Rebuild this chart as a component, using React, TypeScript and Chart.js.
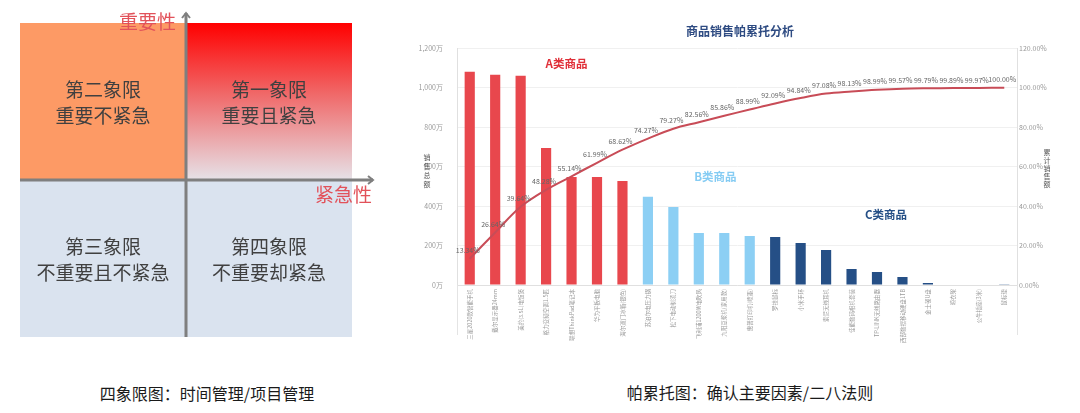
import React, { useEffect, useRef } from 'react';
import { Chart, registerables } from 'chart.js';

Chart.register(...registerables);

const FONT = '"Noto Sans CJK SC", "Noto Sans", sans-serif';

// ---------- Quadrant (四象限) data ----------
const quadrantTitles = ['第一象限', '第二象限', '第三象限', '第四象限'];
const quadrantDescs = ['重要且紧急', '重要不紧急', '不重要且不紧急', '不重要却紧急'];
const quadrantXSign = [1, -1, -1, 1];
const quadrantYSign = [1, 1, -1, -1];
const quadrantAxisNames = ['紧急性', '重要性'];

// ---------- Pareto (帕累托) data ----------
const productNames = [
  '三星2020款智能手机', '戴尔显示器24mm', '美的(3.5L)电饭煲', '格力变频空调1.5匹',
  '联想ThinkPad笔记本', '华为平板电脑', '海尔双门冰箱(银色)', '苏泊尔电压力锅',
  '松下电动剃须刀', '飞利浦1200W电吹风', '九阳豆浆机(家用款)', '惠普打印机(喷墨)',
  '罗技鼠标', '小米手环', '索尼无线耳机', '佳能数码相机套装', 'TP-LINK无线路由器',
  '西部数据移动硬盘1TB', '金士顿U盘', '晾衣架', '公牛插座(3米)', '鼠标垫',
];
const salesValues = [
  1081, 1066, 1061, 695, 548, 548, 528, 447, 396, 264, 264,
  249, 244, 213, 178, 81, 66, 41, 10, 3, 2, 1.5,
];
const cumulativePct = [
  13.34, 26.64, 39.64, 48.28, 55.14, 61.99, 68.62, 74.27, 79.27, 82.56, 85.86,
  88.99, 92.09, 94.84, 97.08, 98.13, 98.99, 99.57, 99.79, 99.89, 99.97, 100.0,
];
const productClass = [
  'A', 'A', 'A', 'A', 'A', 'A', 'A',
  'B', 'B', 'B', 'B', 'B',
  'C', 'C', 'C', 'C', 'C', 'C', 'C', 'C', 'C', 'C',
];
const classNames = ['A类商品', 'B类商品', 'C类商品'];
const classLabelCategory = [3.8, 9.65, 16.35];
const classLabelValue = [1125, 550, 355];
const salesTicks = [0, 200, 400, 600, 800, 1000, 1200];
const pctTicks = [0, 20, 40, 60, 80, 100, 120];

const classColor: Record<string, string> = { A: '#e8474d', B: '#8ccff4', C: '#254f86' };
const classTextColor = ['#e02f38', '#86ccf3', '#254f86'];

function QuadrantChart() {
  const ref = useRef<HTMLCanvasElement>(null);
  useEffect(() => {
    if (!ref.current) return;
    const quadPlugin = {
      id: 'quadrants',
      afterDraw(chart: any) {
        const ctx = chart.ctx as CanvasRenderingContext2D;
        const xs = chart.scales.x;
        const ys = chart.scales.y;
        const x0 = xs.getPixelForValue(0);
        const y0 = ys.getPixelForValue(0);
        ctx.save();
        for (let i = 0; i < quadrantTitles.length; i++) {
          const xa = xs.getPixelForValue(0);
          const xb = xs.getPixelForValue(quadrantXSign[i]);
          const ya = ys.getPixelForValue(0);
          const yb = ys.getPixelForValue(quadrantYSign[i]);
          const left = Math.min(xa, xb), top = Math.min(ya, yb);
          const w = Math.abs(xb - xa), h = Math.abs(yb - ya);
          let fill: any;
          if (i === 0) {
            const g = ctx.createLinearGradient(0, top, 0, top + h);
            g.addColorStop(0, '#ff0000');
            g.addColorStop(0.45, '#f06868');
            g.addColorStop(1, '#e6e2e8');
            fill = g;
          } else if (i === 1) {
            fill = '#fd9a65';
          } else {
            fill = '#dae3ef';
          }
          ctx.fillStyle = fill;
          ctx.fillRect(left, top, w, h);
        }
        // axes
        ctx.strokeStyle = '#7f7f7f';
        ctx.lineWidth = 3;
        ctx.beginPath();
        ctx.moveTo(x0, chart.chartArea.bottom);
        ctx.lineTo(x0, chart.chartArea.top - 10);
        ctx.moveTo(chart.chartArea.left, y0);
        ctx.lineTo(chart.chartArea.right + 21, y0);
        ctx.stroke();
        ctx.lineWidth = 2;
        ctx.beginPath();
        const ty = chart.chartArea.top - 10;
        ctx.moveTo(x0 - 4, ty + 5);
        ctx.lineTo(x0, ty);
        ctx.lineTo(x0 + 4, ty + 5);
        const tx = chart.chartArea.right + 21;
        ctx.moveTo(tx - 5, y0 - 4);
        ctx.lineTo(tx, y0);
        ctx.lineTo(tx - 5, y0 + 4);
        ctx.stroke();
        // quadrant texts
        ctx.fillStyle = '#404040';
        ctx.font = `19px ${FONT}`;
        ctx.textAlign = 'center';
        ctx.textBaseline = 'middle';
        for (let i = 0; i < quadrantTitles.length; i++) {
          const cx = xs.getPixelForValue(quadrantXSign[i] * 0.5);
          const cy = ys.getPixelForValue(quadrantYSign[i] * 0.5);
          ctx.fillText(quadrantTitles[i], cx, cy - 12);
          ctx.fillText(quadrantDescs[i], cx, cy + 14);
        }
        // axis names
        ctx.fillStyle = '#e2525a';
        ctx.textAlign = 'right';
        ctx.fillText(quadrantAxisNames[1], x0 - 10, chart.chartArea.top - 1);
        ctx.fillText(quadrantAxisNames[0], tx - 1, y0 + 15);
        ctx.restore();
      },
    };
    const chart = new Chart(ref.current, {
      type: 'scatter',
      data: {
        datasets: [
          {
            data: quadrantXSign.map((s, i) => ({ x: s * 0.5, y: quadrantYSign[i] * 0.5 })),
            pointRadius: 0,
          },
        ],
      },
      options: {
        animation: false,
        responsive: false,
        events: [],
        layout: { padding: { left: 20, right: 48, top: 23, bottom: 13 } },
        scales: {
          x: { display: false, min: -1, max: 1 },
          y: { display: false, min: -1, max: 1 },
        },
        plugins: { legend: { display: false }, tooltip: { enabled: false } },
      },
      plugins: [quadPlugin],
    });
    return () => chart.destroy();
  }, []);
  return (
    <canvas
      ref={ref}
      width={400}
      height={350}
      style={{ position: 'absolute', left: 0, top: 0, width: 400, height: 350 }}
    />
  );
}

function ParetoChart() {
  const ref = useRef<HTMLCanvasElement>(null);
  useEffect(() => {
    if (!ref.current) return;
    const extras = {
      id: 'paretoExtras',
      afterDraw(chart: any) {
        const ctx = chart.ctx as CanvasRenderingContext2D;
        const area = chart.chartArea;
        const xs = chart.scales.x;
        const ys = chart.scales.y;
        ctx.save();
        // axis line extensions below the plot
        ctx.strokeStyle = '#e4e4e4';
        ctx.lineWidth = 1;
        ctx.beginPath();
        ctx.moveTo(area.left + 0.5, area.bottom);
        ctx.lineTo(area.left + 0.5, area.bottom + 50);
        ctx.moveTo(area.right + 0.5, area.bottom);
        ctx.lineTo(area.right + 0.5, area.bottom + 50);
        ctx.stroke();
        // stacked axis titles
        ctx.fillStyle = '#555';
        ctx.font = `7px ${FONT}`;
        ctx.textAlign = 'center';
        ctx.textBaseline = 'middle';
        const leftTitle = '销售总额';
        for (let i = 0; i < leftTitle.length; i++) {
          ctx.fillText(leftTitle[i], 17, 147 + i * 9);
        }
        const rightTitle = '累计销售额';
        for (let i = 0; i < rightTitle.length; i++) {
          ctx.fillText(rightTitle[i], 637, 142 + i * 8);
        }
        // line value labels
        const meta = chart.getDatasetMeta(1);
        ctx.fillStyle = '#666';
        ctx.font = `7px ${FONT}`;
        meta.data.forEach((el: any, i: number) => {
          ctx.fillText(cumulativePct[i].toFixed(2) + '%', el.x - 2, el.y - 8);
        });
        // class labels
        ctx.font = `bold 11.5px ${FONT}`;
        for (let i = 0; i < classNames.length; i++) {
          const x = xs.getPixelForValue(classLabelCategory[i]);
          const y = ys.getPixelForValue(classLabelValue[i]);
          ctx.fillStyle = classTextColor[i];
          ctx.fillText(classNames[i], x, y);
        }
        ctx.restore();
      },
    };
    const chart = new Chart(ref.current, {
      type: 'bar',
      data: {
        labels: productNames,
        datasets: [
          {
            type: 'bar',
            data: salesValues,
            backgroundColor: productClass.map((c) => classColor[c]),
            yAxisID: 'y',
            categoryPercentage: 1,
            barPercentage: 0.4,
            order: 2,
          },
          {
            type: 'line',
            data: cumulativePct,
            yAxisID: 'y1',
            borderColor: '#c84c57',
            borderWidth: 2,
            pointRadius: 0,
            tension: 0.35,
            fill: false,
            order: 1,
          } as any,
        ],
      },
      options: {
        animation: false,
        responsive: false,
        events: [],
        layout: { padding: 0 },
        scales: {
          x: {
            grid: { display: false, drawTicks: false },
            border: { display: true, color: '#e0e0e0' },
            ticks: {
              autoSkip: false,
              maxRotation: 90,
              minRotation: 90,
              padding: 4,
              color: '#9a9a9a',
              font: { size: 5.5, family: FONT },
            },
            afterFit: (s: any) => {
              s.height = 65;
            },
          },
          y: {
            position: 'left',
            min: 0,
            max: 1200,
            afterBuildTicks: (s: any) => {
              s.ticks = salesTicks.map((v) => ({ value: v }));
            },
            grid: { color: '#f0f0f0', drawTicks: false },
            border: { display: true, color: '#e0e0e0' },
            ticks: {
              padding: 14,
              color: '#9a9a9a',
              font: { size: 7, family: FONT },
              callback: (v: any) => Number(v).toLocaleString('en-US') + '万',
            },
            afterFit: (s: any) => {
              s.width = 47;
            },
          },
          y1: {
            position: 'right',
            min: 0,
            max: 120,
            afterBuildTicks: (s: any) => {
              s.ticks = pctTicks.map((v) => ({ value: v }));
            },
            grid: { display: false, drawTicks: false },
            border: { display: true, color: '#e0e0e0' },
            ticks: {
              padding: 2,
              color: '#9a9a9a',
              font: { size: 7, family: FONT },
              callback: (v: any) => Number(v).toFixed(2) + '%',
            },
            afterFit: (s: any) => {
              s.width = 53;
            },
          },
        },
        plugins: {
          legend: { display: false },
          tooltip: { enabled: false },
          title: {
            display: true,
            text: '商品销售帕累托分析',
            color: '#2e4b82',
            font: { size: 12, weight: 'bold', family: FONT },
            padding: { top: 14, bottom: 10 },
          },
        },
      },
      plugins: [extras],
    });
    return () => chart.destroy();
  }, []);
  return (
    <canvas
      ref={ref}
      width={660}
      height={340}
      style={{ position: 'absolute', left: 410, top: 10, width: 660, height: 340 }}
    />
  );
}

export default function App() {
  const caption: React.CSSProperties = {
    position: 'absolute',
    fontFamily: FONT,
    fontSize: 16,
    lineHeight: '22px',
    color: '#1a1a1a',
    textAlign: 'center',
    whiteSpace: 'nowrap',
  };
  return (
    <div
      style={{
        position: 'absolute',
        left: 0,
        top: 0,
        width: 1080,
        height: 413,
        background: '#ffffff',
        overflow: 'hidden',
      }}
    >
      <QuadrantChart />
      <ParetoChart />
      <div style={{ ...caption, left: 57, width: 300, top: 382 }}>四象限图：时间管理/项目管理</div>
      <div style={{ ...caption, left: 600, width: 300, top: 381 }}>帕累托图：确认主要因素/二八法则</div>
    </div>
  );
}
